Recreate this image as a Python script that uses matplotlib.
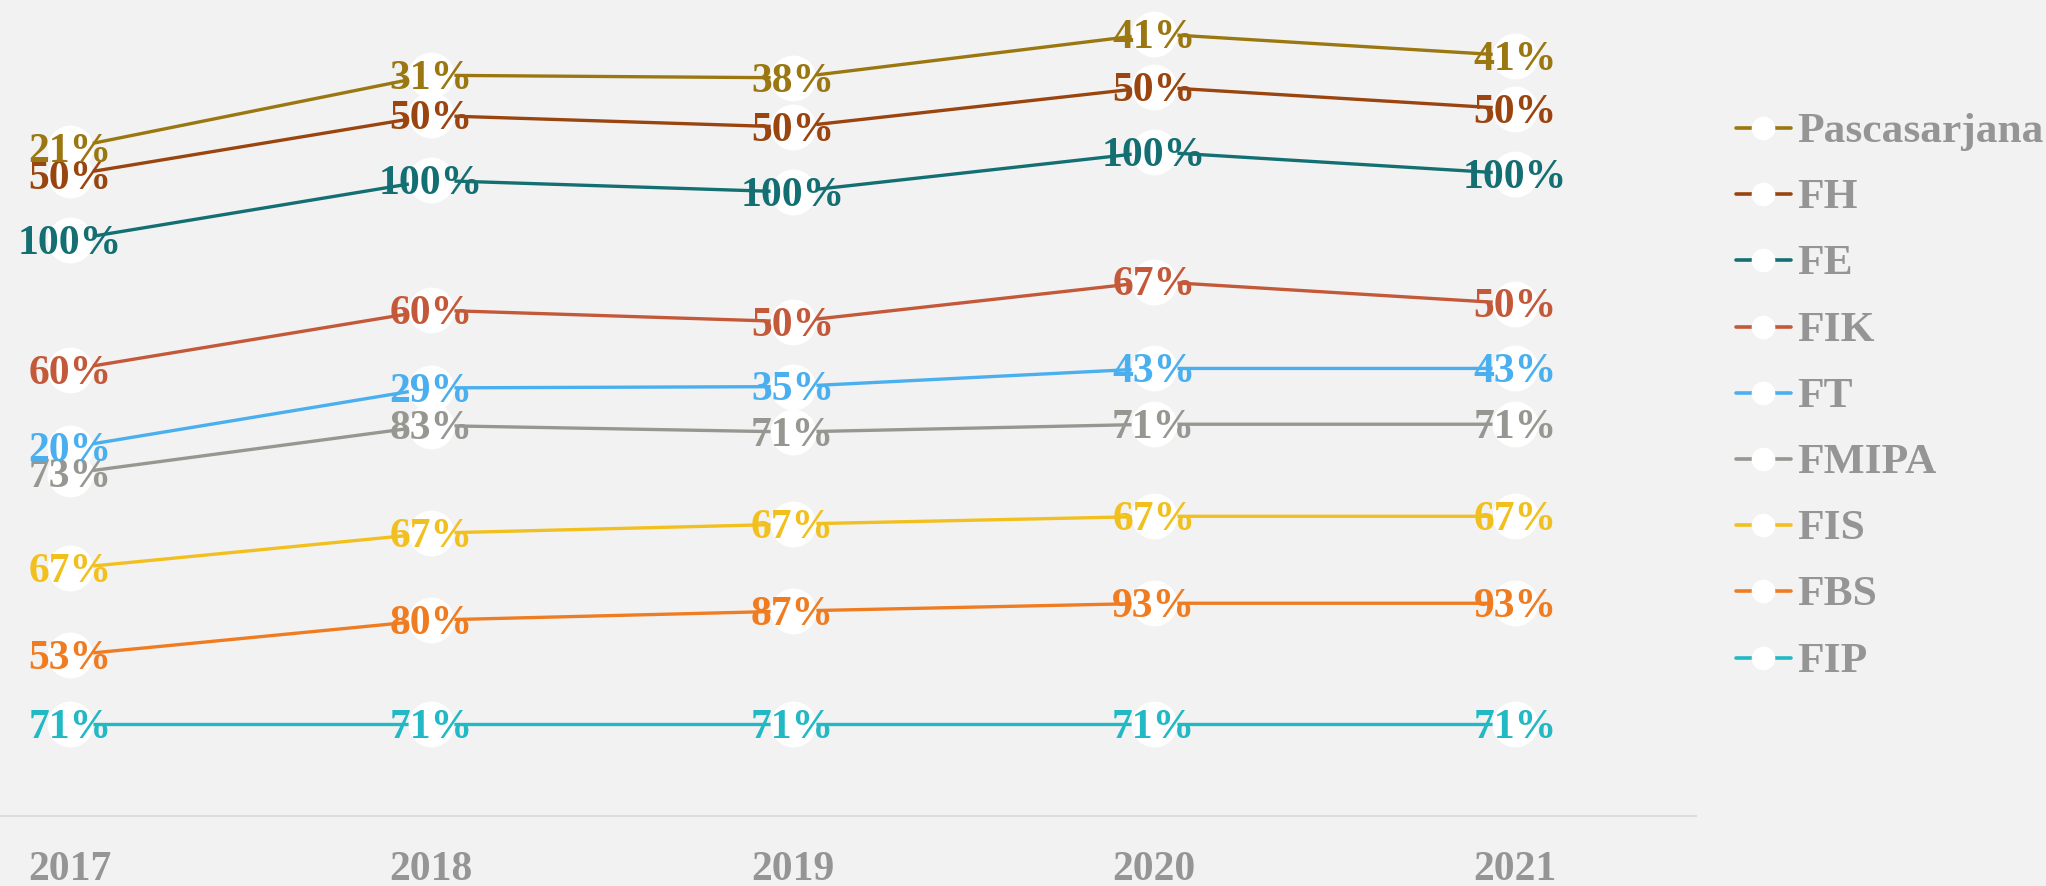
import numpy as np
import matplotlib
matplotlib.use('Agg')
import matplotlib.pyplot as plt

# Datos (gráfico de líneas apiladas, etiquetas = valor de cada serie)
tahun = ['2017', '2018', '2019', '2020', '2021']
fip = [71, 71, 71, 71, 71]
fbs = [53, 80, 87, 93, 93]
fis = [67, 67, 67, 67, 67]
fmipa = [73, 83, 71, 71, 71]
ft = [20, 29, 35, 43, 43]
fik = [60, 60, 50, 67, 50]
fe = [100, 100, 100, 100, 100]
fh = [50, 50, 50, 50, 50]
pasca = [21, 31, 38, 41, 41]

nama = ['FIP', 'FBS', 'FIS', 'FMIPA', 'FT', 'FIK', 'FE', 'FH', 'Pascasarjana']
nilai = [fip, fbs, fis, fmipa, ft, fik, fe, fh, pasca]
warna = ['#22B8C4', '#F07C22', '#F2C01E', '#979791', '#4AAFEF',
         '#C4593A', '#146F72', '#9A450F', '#9A7710']

bg = '#F2F2F2'
abu = '#959595'
fuente = 'Liberation Serif'
fs = 30

fig = plt.figure(figsize=(20.46, 8.86), dpi=100, facecolor=bg)
ax = fig.add_axes([0, 70 / 886, 1696 / 2046, 816 / 886])
ax.set_facecolor(bg)

x = np.arange(len(tahun))
acum = np.cumsum(np.array(nilai), axis=0)

for i in range(len(nama)):
    ax.plot(x, acum[i], color=warna[i], lw=2.4, zorder=2)
for i in range(len(nama)):
    ax.plot(x, acum[i], 'o', ms=33, mfc='white', mec='white', mew=0, zorder=3)
for i in range(len(nama)):
    for xi, yi, v in zip(x, acum[i], nilai[i]):
        ax.annotate(f'{v}%', (xi, yi), xytext=(0, -10), textcoords='offset points',
                    ha='center', va='baseline', color=warna[i], fontsize=fs,
                    fontweight='bold', family=fuente, zorder=4)

ax.set_xlim(-70 / 361.25, (1696 - 70) / 361.25)
ax.set_ylim(0, 629)
ax.set_xticks(x)
ax.set_xticklabels(tahun, fontsize=fs, fontweight='bold', family=fuente, color=abu)
ax.tick_params(axis='x', length=0, pad=25)
ax.set_yticks([])
for s in ['top', 'left', 'right']:
    ax.spines[s].set_visible(False)
ax.spines['bottom'].set_color('#DCDCDC')
ax.spines['bottom'].set_linewidth(1.5)

# Leyenda (de arriba hacia abajo: orden inverso)
lax = fig.add_axes([0, 0, 1, 1])
lax.set_xlim(0, 2046)
lax.set_ylim(886, 0)
lax.axis('off')
for k, i in enumerate(range(len(nama) - 1, -1, -1)):
    yy = 128 + 66.2 * k
    lax.plot([1736, 1791], [yy, yy], color=warna[i], lw=2.6, solid_capstyle='round')
    lax.plot(1763, yy, 'o', ms=17, mfc='white', mec='white', mew=0)
    lax.text(1797, yy + 14, nama[i], va='baseline', ha='left', color=abu,
             fontsize=31.3, fontweight='bold', family=fuente)

fig.savefig('out.png', dpi=100, facecolor=bg)
